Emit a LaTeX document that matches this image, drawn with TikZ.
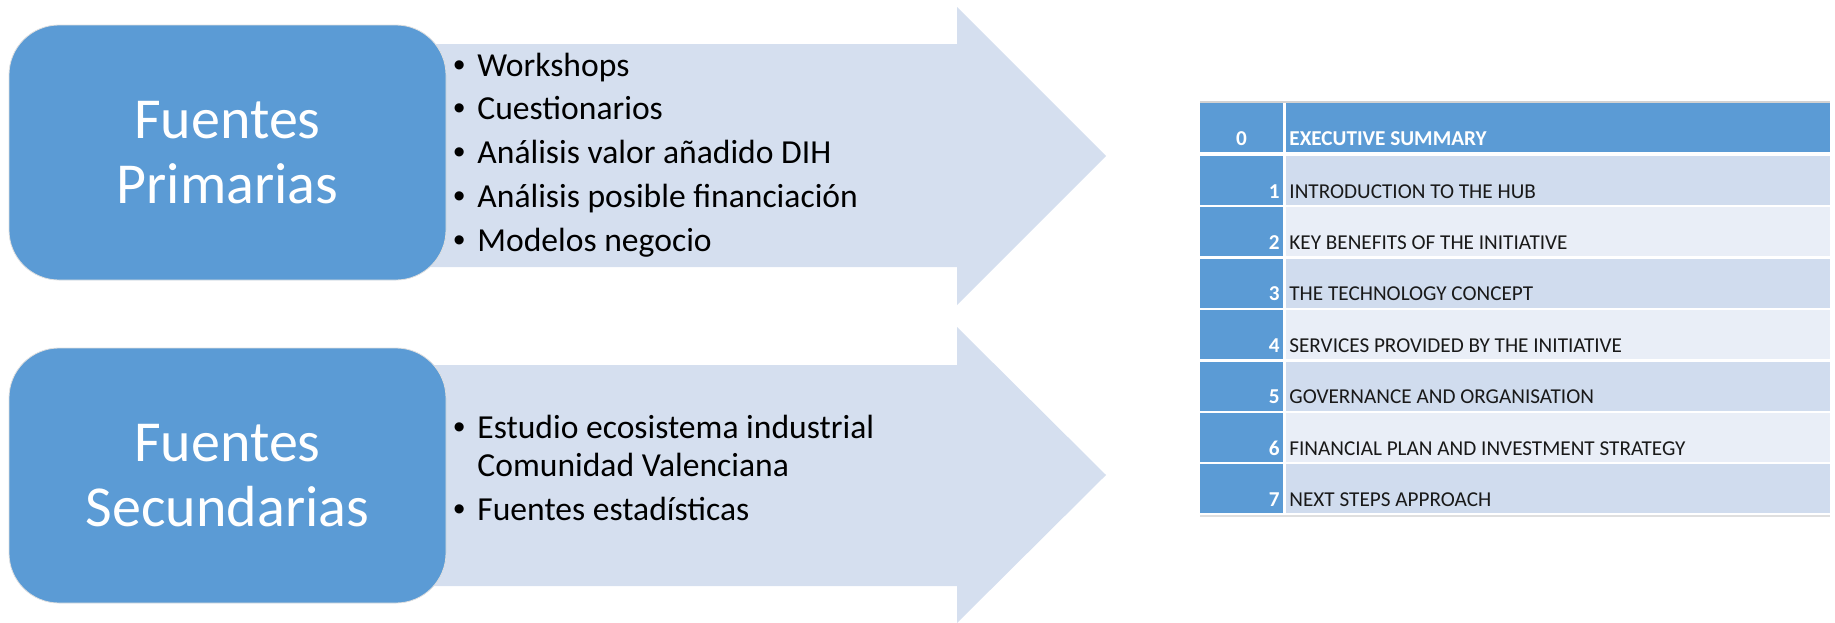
\documentclass[tikz,border=0pt]{standalone}
\usepackage{fontspec}
\setmainfont{Carlito}
\newfontfamily\bulletfont{Liberation Sans}

\definecolor{srcblue}{HTML}{5B9BD5}
\definecolor{arrowfill}{HTML}{D5DFEF}
\definecolor{rowdark}{HTML}{D0DCEE}
\definecolor{rowlight}{HTML}{E9EEF7}

\newcommand{\itembullet}{\makebox[12pt][l]{\bulletfont\textbullet}}

\tikzset{
  srcbox/.style={draw=gray!25, fill=srcblue, rounded corners=25pt, minimum width=218.5pt, minimum height=127.5pt,
    text=white, align=center, font=\fontsize{29}{32.5}\selectfont},
  item/.style={anchor=base west, inner sep=0pt, font=\fontsize{16.8}{21.9}\selectfont},
  numcell/.style={anchor=north west, inner sep=0pt, outer sep=0pt, fill=srcblue, minimum width=41.5pt, minimum height=24.5pt},
  txtcell/.style={anchor=north west, inner sep=0pt, outer sep=0pt, minimum width=272pt, minimum height=24.5pt},
  numtxt/.style={anchor=base east, inner sep=0pt, text=white, font=\fontsize{10.6}{12}\selectfont\bfseries},
  rowtxt/.style={anchor=base west, inner sep=0pt, text=black!90, font=\fontsize{10.6}{12}\selectfont}
}

\begin{document}
\begin{tikzpicture}[x=0.5pt,y=-0.5pt]
\useasboundingbox (0,0) rectangle (1835,622);

% arrows behind the boxes
\fill[arrowfill] (300,44) -- (957,44) -- (957,7) -- (1106,156) -- (957,305) -- (957,267) -- (300,267) -- cycle;
\fill[arrowfill] (300,365) -- (957,365) -- (957,327) -- (1106,475) -- (957,623) -- (957,586) -- (300,586) -- cycle;

\node[srcbox] (prim) at (227.5,152.5) {Fuentes\\Primarias};
\node[srcbox] (sec) at (227.5,475.5) {Fuentes\\Secundarias};

\foreach \txt [count=\i] in {Workshops, Cuestionarios, Análisis valor añadido DIH, Análisis posible financiación, Modelos negocio}
  \node[item] (p\i) at (453,{76+43.8*(\i-1)}) {\itembullet\txt};

\node[item] (s1) at (453,438) {\itembullet Estudio ecosistema industrial};
\node[item] (s1b) at (477,476) {Comunidad Valenciana};
\node[item] (s2) at (453,520) {\itembullet Fuentes estadísticas};

% index table
\draw[gray!35, line width=1pt] (1200,101.5) -- (1830,101.5);
\node[numcell] (h0) at (1200,103) {};
\node[txtcell, fill=srcblue] (h1) at (1286,103) {};
\node[numtxt, anchor=base] (k0) at ([yshift=3.5pt]h0.south) {0};
\node[numtxt, anchor=base west] (l0) at ([xshift=1.5pt,yshift=3.5pt]h1.south west) {EXECUTIVE SUMMARY};

\foreach \i/\col/\title in {1/rowdark/INTRODUCTION TO THE HUB, 2/rowlight/KEY BENEFITS OF THE INITIATIVE,
    3/rowdark/THE TECHNOLOGY CONCEPT, 4/rowlight/SERVICES PROVIDED BY THE INITIATIVE,
    5/rowdark/GOVERNANCE AND ORGANISATION, 6/rowlight/FINANCIAL PLAN AND INVESTMENT STRATEGY,
    7/rowdark/NEXT STEPS APPROACH} {
  \node[numcell] (n\i) at (1200,{156+51.4*(\i-1)}) {};
  \node[txtcell, fill=\col] (c\i) at (1286,{156+51.4*(\i-1)}) {};
  \node[numtxt] (k\i) at ([xshift=-1.5pt,yshift=3.5pt]n\i.south east) {\i};
  \node[rowtxt] (l\i) at ([xshift=1.5pt,yshift=3.5pt]c\i.south west) {\title};
}
\draw[gray!25, line width=1pt] (1200,516) -- (1830,516);

\end{tikzpicture}
\end{document}
